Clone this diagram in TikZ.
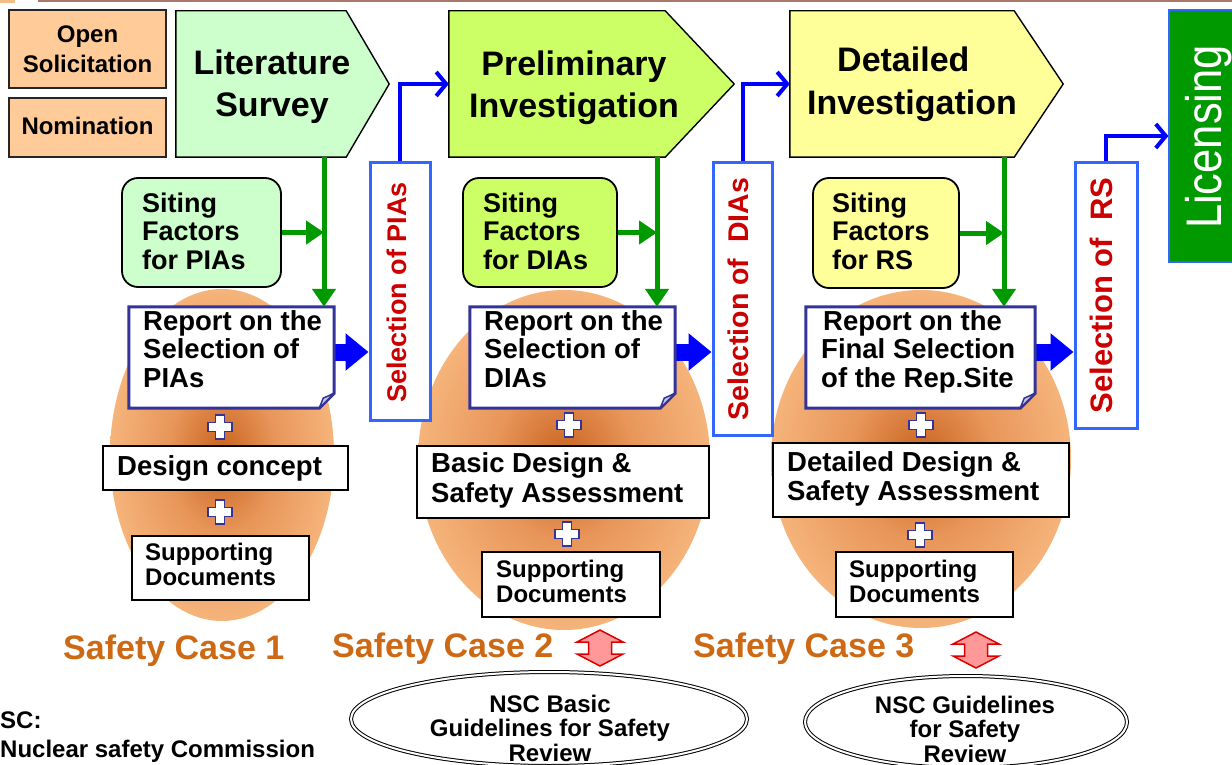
\documentclass[tikz,border=0pt]{standalone}
\usepackage{fontspec}
\usepackage{graphicx}
\setmainfont{Liberation Sans}
\usetikzlibrary{arrows.meta,fit,shapes.geometric}

\definecolor{peach}{RGB}{255,204,153}
\definecolor{mintfill}{RGB}{204,255,204}
\definecolor{limefill}{RGB}{204,255,102}
\definecolor{lemonfill}{RGB}{255,255,153}
\definecolor{leafgreen}{RGB}{0,153,0}
\definecolor{framblue}{RGB}{51,102,255}
\definecolor{pureblue}{RGB}{0,0,255}
\definecolor{selred}{RGB}{204,0,0}
\definecolor{inkblue}{RGB}{51,51,153}
\definecolor{flapfill}{RGB}{200,200,230}
\definecolor{caseorange}{RGB}{205,105,20}
\definecolor{glowcore}{RGB}{200,98,30}
\definecolor{glowmid}{RGB}{232,150,90}
\definecolor{glowrim}{RGB}{252,196,140}
\definecolor{pinkfill}{RGB}{255,153,153}
\definecolor{rededge}{RGB}{220,0,0}
\definecolor{topbar}{RGB}{170,120,105}

% orange glow behind each safety case
\pgfdeclareradialshading{glow}{\pgfpoint{0bp}{0bp}}{%
  color(0bp)=(glowcore); color(12bp)=(glowmid); color(32bp)=(glowrim); color(50bp)=(glowrim)}

% stacked lines whose baseline is the baseline of the first line
\newcommand\lefttext[1]{\vtop{\halign{##\hfil\cr#1\crcr}}}
\newcommand\midtext[1]{\vtop{\halign{\hfil##\hfil\cr#1\crcr}}}
\newcommand\setsz[2]{\fontsize{#1}{#2}\selectfont}

\begin{document}
\begin{tikzpicture}[x=1pt,y=-1pt,
  every node/.style={inner sep=0pt},
  lbl/.style={anchor=base west, font=\bfseries\setsz{27.5}{28.5}},
  tagbox/.style={draw=black!85, line width=2pt, fill=peach},
  tagtext/.style={anchor=base, font=\bfseries\setsz{24}{30}},
  stageline/.style={draw=black, line width=1.4pt, line join=miter},
  stagetext/.style={anchor=base, font=\bfseries\setsz{34}{42}},
  sitebox/.style={draw=black, line width=1.8pt, rounded corners=16pt},
  selbox/.style={draw=framblue, line width=3pt, fill=white},
  seltext/.style={rotate=90, text=selred},
  repline/.style={draw=inkblue, line width=3pt, fill=white, line join=miter},
  flapline/.style={draw=inkblue, line width=1.5pt, fill=flapfill, line join=round},
  whitebox/.style={draw=black, line width=2.5pt, fill=white},
  greenline/.style={draw=leafgreen, line width=5pt, -{Triangle[length=18pt,width=23pt]}},
  thinblue/.style={draw=pureblue, line width=4pt, -{Straight Barb[length=10pt,width=24pt]}},
  fatblue/.style={draw=pureblue, line width=17pt, -{Triangle[length=23pt,width=36pt]}},
  dblarrow/.style={draw=rededge, line width=1.5pt, fill=pinkfill, line join=miter},
  casetext/.style={anchor=base west, text=caseorange, font=\bfseries\setsz{34}{34}},
  guideoval/.style={ellipse, draw=black, line width=1pt, double=white, double distance=2pt},
  glowoval/.style={ellipse, shading=glow, draw=none},
  plus sign/.pic={\draw[draw=inkblue, line width=1.8pt, fill=white]
    (-4.5,-12) -- (4.5,-12) -- (4.5,-4.5) -- (12,-4.5) -- (12,4.5) -- (4.5,4.5) --
    (4.5,12) -- (-4.5,12) -- (-4.5,4.5) -- (-12,4.5) -- (-12,-4.5) -- (-4.5,-4.5) -- cycle;}
]
\path[use as bounding box] (0,0) rectangle (1232,765);
\clip (0,0) rectangle (1232,765);

% header strip
\fill[topbar] (38,0) rectangle (1232,2.5);
\fill[peach!80!brown] (0,0) rectangle (15,3);

% safety case glows
\node[glowoval, minimum width=224pt, minimum height=332pt] (case1) at (222,455) {};
\node[glowoval, minimum width=292pt, minimum height=340pt] (case2) at (564,460) {};
\node[glowoval, minimum width=300pt, minimum height=338pt] (case3) at (921,459) {};

% entry boxes
\node[tagbox, fit={(9,10) (166,88)}] (opensol) {};
\node[tagtext] (opensoltext) at (87.5,43) {\midtext{Open\cr Solicitation}};
\node[tagbox, fit={(9,98) (166,157)}] (nomin) {};
\node[tagtext] (nomintext) at (87.5,135) {Nomination};

% stages
\node[fit={(176,11) (346,157)}] (lit) {};
\draw[stageline, fill=mintfill] (lit.north west) -- (lit.north east) -- ([xshift=43pt]lit.east)
  -- (lit.south east) -- (lit.south west) -- cycle;
\node[stagetext] (littext) at (272,75) {\midtext{Literature\cr Survey}};

\node[fit={(449,11) (665,157)}] (prel) {};
\draw[stageline, fill=limefill] (prel.north west) -- (prel.north east) -- ([xshift=69pt]prel.east)
  -- (prel.south east) -- (prel.south west) -- cycle;
\node[stagetext] (preltext) at (574,76) {\midtext{Preliminary\cr Investigation}};

\node[fit={(790,11) (1014,157)}] (det) {};
\draw[stageline, fill=lemonfill] (det.north west) -- (det.north east) -- ([xshift=49pt]det.east)
  -- (det.south east) -- (det.south west) -- cycle;
\node[stagetext, anchor=base west, font=\bfseries\setsz{34}{43}] (dettext) at (807,72)
  {\lefttext{\hskip30pt Detailed\cr Investigation}};

\node[fit={(1169,10) (1245,262)}, fill=leafgreen, draw=framblue, line width=1.2pt] (lic) {};
\node[rotate=90, text=white, font=\setsz{50}{50}] (lictext) at (1209,137)
  {\scalebox{0.87}[1]{Licensing}};

% siting factors
\node[sitebox, fill=mintfill, fit={(122,178) (281,287)}] (sit1) {};
\node[lbl, font=\bfseries\setsz{27}{28.5}] (sit1text) at (142,212) {\lefttext{Siting\cr Factors\cr for PIAs}};
\node[sitebox, fill=limefill, fit={(463,178) (617,287)}] (sit2) {};
\node[lbl, font=\bfseries\setsz{27}{28.5}] (sit2text) at (483,212) {\lefttext{Siting\cr Factors\cr for DIAs}};
\node[sitebox, fill=lemonfill, fit={(813,178) (959,288)}] (sit3) {};
\node[lbl, font=\bfseries\setsz{27}{28.5}] (sit3text) at (832,212) {\lefttext{Siting\cr Factors\cr for RS}};

% selections
\node[selbox, fit={(370,163) (430,420)}] (sel1) {};
\node[seltext, font=\bfseries\setsz{27}{27}] (sel1text) at (397,292.5) {Selection of PIAs};
\node[selbox, fit={(713,163) (772,435)}] (sel2) {};
\node[seltext, font=\bfseries\setsz{28.5}{28.5}] (sel2text) at (738.6,299) {Selection of~ DIAs};
\node[selbox, fit={(1075,163) (1137,428)}] (sel3) {};
\node[seltext, font=\bfseries\setsz{31}{31}] (sel3text) at (1101.5,295.5) {Selection of~ RS};

% reports
\node[fit={(129,307) (334,408)}] (rep1) {};
\node[fit={(470,307) (675,408)}] (rep2) {};
\node[fit={(806,307) (1035,408)}] (rep3) {};

\draw[fatblue] ([yshift=5.5pt]rep1.east) -- ([yshift=5.5pt]rep1.east -| sel1.west);
\draw[fatblue] ([yshift=5.5pt]rep2.east) -- ([yshift=5.5pt]rep2.east -| sel2.west);
\draw[fatblue] ([yshift=5.5pt]rep3.east) -- ([yshift=5.5pt]rep3.east -| sel3.west);

\foreach \r in {rep1,rep2,rep3}{
  \draw[repline] (\r.north west) -- (\r.north east) -- ([yshift=15pt]\r.south east)
    -- ([xshift=-15pt]\r.south east) -- (\r.south west) -- cycle;
  \draw[flapline] ([yshift=15pt]\r.south east) -- ([xshift=-11pt,yshift=10pt]\r.south east)
    -- ([xshift=-15pt]\r.south east) -- cycle;
}
\node[lbl] (rep1text) at (143,330) {\lefttext{Report on the\cr Selection of\cr PIAs}};
\node[lbl] (rep2text) at (484,330) {\lefttext{Report on the\cr Selection of\cr DIAs}};
\node[lbl] (rep3text) at (821,330) {\lefttext{\hskip2pt Report on the\cr Final Selection\cr of the Rep.Site}};

% siting factors feed the reports
\coordinate (j1) at (324,233);
\coordinate (j2) at (657,233);
\coordinate (j3) at (1004,233);
\draw[greenline] (j1 |- lit.south) -- (j1 |- rep1.north);
\draw[greenline] (j2 |- prel.south) -- (j2 |- rep2.north);
\draw[greenline] (j3 |- det.south) -- (j3 |- rep3.north);
\draw[greenline] (sit1.east) -- (sit1.east -| j1);
\draw[greenline] (sit2.east) -- (sit2.east -| j2);
\draw[greenline] (sit3.east) -- (sit3.east -| j3);

% each selection opens the next stage
\draw[thinblue] (sel1.north) |- (prel.west);
\draw[thinblue] (sel2.north) |- (det.west);
\draw[thinblue] (sel3.north) |- (lic.west);

% safety case contents
\pic at (220,427) {plus sign};
\pic at (220,512) {plus sign};
\pic at (569,425) {plus sign};
\pic at (567,534) {plus sign};
\pic at (921,425) {plus sign};
\pic at (920,535) {plus sign};

\node[whitebox, fit={(103,446) (348,490)}] (dc1) {};
\node[lbl] (dc1text) at (117,475) {Design concept};
\node[whitebox, fit={(417,446) (709,518)}] (bd2) {};
\node[lbl, font=\bfseries\setsz{27.5}{30}] (bd2text) at (431,472) {\lefttext{Basic Design \&\cr Safety Assessment}};
\node[whitebox, fit={(773,443) (1069,517)}] (dd3) {};
\node[lbl, font=\bfseries\setsz{27.5}{29}] (dd3text) at (787,471) {\lefttext{Detailed Design \&\cr Safety Assessment}};

\node[whitebox, fit={(132,536) (309,600)}] (sd1) {};
\node[lbl, font=\bfseries\setsz{24}{25}] (sd1text) at (145,560) {\lefttext{Supporting\cr Documents}};
\node[whitebox, fit={(482,552) (660,617)}] (sd2) {};
\node[lbl, font=\bfseries\setsz{24}{25}] (sd2text) at (496,577) {\lefttext{Supporting\cr Documents}};
\node[whitebox, fit={(836,552) (1013,617)}] (sd3) {};
\node[lbl, font=\bfseries\setsz{24}{25}] (sd3text) at (849,577) {\lefttext{Supporting\cr Documents}};

\node[casetext] (sc1) at (63,659) {Safety Case 1};
\node[casetext] (sc2) at (332,657) {Safety Case 2};
\node[casetext] (sc3) at (693,657) {Safety Case 3};

% review guidelines
\node[guideoval, minimum width=396pt, minimum height=94pt] (nsc1) at (549,719) {};
\node[anchor=base, font=\bfseries\setsz{24}{24.5}] (nsc1text) at (550,712)
  {\midtext{NSC Basic\cr Guidelines for Safety\cr Review}};
\node[guideoval, minimum width=322pt, minimum height=92pt] (nsc2) at (966,722) {};
\node[anchor=base, font=\bfseries\setsz{24}{24.5}] (nsc2text) at (965,713)
  {\midtext{NSC Guidelines\cr for Safety\cr Review}};

\coordinate (dar1) at (600,648);
\coordinate (dar2) at (976,650);
\foreach \c in {dar1,dar2}{
  \draw[dblarrow, shift={(\c)}] (0,-18) -- (23,-6) -- (11.5,-6) -- (11.5,6) -- (23,6) -- (0,18)
    -- (-23,6) -- (-11.5,6) -- (-11.5,-6) -- (-23,-6) -- cycle;
}

\node[lbl, font=\bfseries\setsz{24}{29}] (nscnote) at (0,728) {\lefttext{SC:\cr Nuclear safety Commission}};
\end{tikzpicture}
\end{document}
